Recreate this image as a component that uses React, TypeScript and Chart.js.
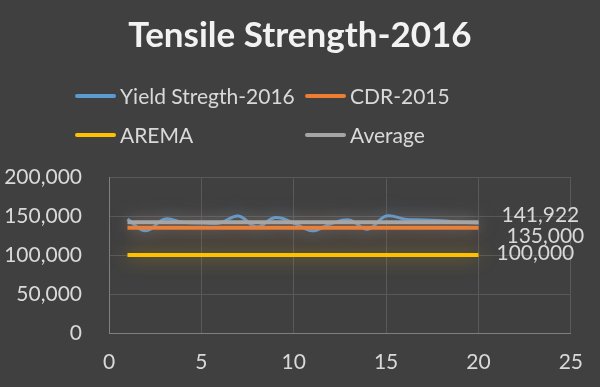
import React, { useEffect, useRef } from "react";
import { Chart, registerables } from "chart.js";

Chart.register(...registerables);

const chartTitle = "Tensile Strength-2016";
const sampleIndex = [1, 2, 3, 4, 5, 6, 7, 8, 9, 10, 11, 12, 13, 14, 15, 16, 17, 18, 19, 20];
const yieldStrength2016 = [146000, 131000, 146000, 142000, 141000, 141000, 150000, 136000, 148000, 141000, 131000, 140000, 145000, 133000, 150000, 146000, 145000, 144000, 142000, 141000];
const cdr2015Value = 135000;
const aremaValue = 100000;
const averageValue = 141922;
const seriesNames = ["Yield Stregth-2016", "CDR-2015", "AREMA", "Average"];
const seriesColors = ["#5b9bd5", "#ed7d31", "#ffc000", "#a5a5a5"];
const xTicks = [0, 5, 10, 15, 20, 25];
const yTicks = [0, 50000, 100000, 150000, 200000];

const FONT = "Lato, 'Liberation Sans', sans-serif";
const TEXT = "#d9d9d9";

const fmt = (v: number) => v.toLocaleString("en-US");

function hexA(hex: string, a: number) {
  const n = parseInt(hex.slice(1), 16);
  return `rgba(${(n >> 16) & 255},${(n >> 8) & 255},${n & 255},${a})`;
}

const glowPlugin = {
  id: "glow",
  beforeDatasetDraw(chart: any, args: any) {
    const ctx = chart.ctx;
    const ds = chart.data.datasets[args.index];
    ctx.save();
    ctx.shadowColor = hexA(ds.borderColor, 0.55);
    ctx.shadowBlur = 18;
  },
  afterDatasetDraw(chart: any) {
    chart.ctx.restore();
  },
};

const headerPlugin = {
  id: "header",
  afterDraw(chart: any) {
    const ctx = chart.ctx;
    ctx.save();
    ctx.fillStyle = "#f2f2f2";
    ctx.font = `bold 35px ${FONT}`;
    ctx.textAlign = "center";
    ctx.textBaseline = "alphabetic";
    ctx.fillText(chartTitle, 300, 47);

    const items = [
      { x: 75, y: 96 },
      { x: 305, y: 96 },
      { x: 75, y: 135 },
      { x: 305, y: 135 },
    ];
    ctx.font = `21px ${FONT}`;
    ctx.textAlign = "left";
    ctx.textBaseline = "middle";
    items.forEach((p, i) => {
      ctx.strokeStyle = seriesColors[i];
      ctx.lineWidth = 4;
      ctx.lineCap = "round";
      ctx.beginPath();
      ctx.moveTo(p.x + 2, p.y);
      ctx.lineTo(p.x + 39, p.y);
      ctx.stroke();
      ctx.fillStyle = TEXT;
      ctx.fillText(seriesNames[i], p.x + 45, p.y + 1);
    });
    ctx.restore();
  },
};

const endLabelOffsets: Record<number, { dx: number; dy: number }> = {
  1: { dx: 28, dy: 9 },
  2: { dx: 18, dy: -2 },
  3: { dx: 23, dy: -7 },
};

const endLabelPlugin = {
  id: "endLabels",
  afterDatasetsDraw(chart: any) {
    const ctx = chart.ctx;
    ctx.save();
    ctx.font = `21px ${FONT}`;
    ctx.fillStyle = TEXT;
    ctx.textAlign = "left";
    ctx.textBaseline = "middle";
    [1, 2, 3].forEach((i) => {
      const meta = chart.getDatasetMeta(i);
      const last = meta.data[meta.data.length - 1];
      const ds = chart.data.datasets[i];
      const v = ds.data[ds.data.length - 1].y;
      const o = endLabelOffsets[i];
      ctx.fillText(fmt(v), last.x + o.dx, last.y + o.dy);
    });
    ctx.restore();
  },
};

export default function App() {
  const ref = useRef<HTMLCanvasElement>(null);
  useEffect(() => {
    if (!ref.current) return;
    const mk = (vals: number[]) => sampleIndex.map((x, i) => ({ x, y: vals[i] }));
    const chart = new Chart(ref.current, {
      type: "line",
      data: {
        datasets: [
          { label: seriesNames[0], data: mk(yieldStrength2016), borderColor: seriesColors[0], borderWidth: 3, tension: 0.4, pointRadius: 0, order: 4 },
          { label: seriesNames[1], data: mk(sampleIndex.map(() => cdr2015Value)), borderColor: seriesColors[1], borderWidth: 4, pointRadius: 0, order: 3 },
          { label: seriesNames[2], data: mk(sampleIndex.map(() => aremaValue)), borderColor: seriesColors[2], borderWidth: 4, pointRadius: 0, order: 2 },
          { label: seriesNames[3], data: mk(sampleIndex.map(() => averageValue)), borderColor: seriesColors[3], borderWidth: 4, pointRadius: 0, order: 1 },
        ],
      },
      options: {
        animation: false,
        responsive: false,
        maintainAspectRatio: false,
        layout: { padding: { top: 177, right: 25, left: 0, bottom: 0 } },
        plugins: { legend: { display: false }, title: { display: false }, tooltip: { enabled: false } },
        scales: {
          x: {
            type: "linear",
            min: xTicks[0],
            max: xTicks[xTicks.length - 1],
            afterBuildTicks: (s: any) => { s.ticks = xTicks.map((v) => ({ value: v })); },
            afterFit: (s: any) => { s.height = 54; },
            grid: { color: "#595959", drawTicks: false },
            border: { color: "#7f7f7f" },
            ticks: { color: TEXT, font: { family: FONT, size: 21 }, padding: 17, maxRotation: 0 },
          },
          y: {
            min: yTicks[0],
            max: yTicks[yTicks.length - 1],
            afterBuildTicks: (s: any) => { s.ticks = yTicks.map((v) => ({ value: v })); },
            afterFit: (s: any) => { s.width = 109; },
            grid: { color: "#595959", drawTicks: false },
            border: { color: "#7f7f7f" },
            ticks: { color: TEXT, font: { family: FONT, size: 21 }, padding: 27, callback: (v: any) => fmt(Number(v)) },
          },
        },
      },
      plugins: [glowPlugin, endLabelPlugin, headerPlugin],
    } as any);
    return () => chart.destroy();
  }, []);
  return (
    <div style={{ position: "absolute", left: 0, top: 0, width: 600, height: 387, background: "#404040" }}>
      <canvas ref={ref} width={600} height={387} style={{ display: "block", width: 600, height: 387 }} />
    </div>
  );
}
